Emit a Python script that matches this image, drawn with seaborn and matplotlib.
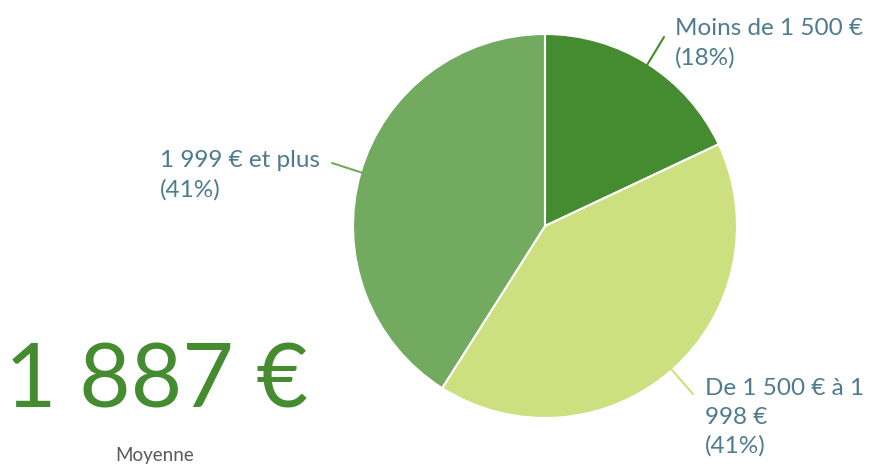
import numpy as np
import matplotlib
matplotlib.use("Agg")
import matplotlib.pyplot as plt
import seaborn as sns

# Données
categories = ["Moins de 1 500 €", "De 1 500 € à 1\n998 €", "1 999 € et plus"]
parts = [18, 41, 41]
couleurs = ["#458B2F", "#CDE07F", "#72AB60"]
moyenne = "1 887 €"

sns.set_theme(style="white")
plt.rcParams["font.family"] = ["Lato", "DejaVu Sans"]

W, H = 870, 465
fig = plt.figure(figsize=(W / 100, H / 100), dpi=100)
cx, cy, r = 545, 226, 192
ax = fig.add_axes([(cx - r) / W, (H - cy - r) / H, 2 * r / W, 2 * r / H])

wedges, _ = ax.pie(
    parts,
    colors=couleurs,
    startangle=90,
    counterclock=False,
    wedgeprops=dict(edgecolor="white", linewidth=1.5),
)
ax.set_aspect("equal")
ax.set_xlim(-1, 1)
ax.set_ylim(-1, 1)

# Étiquettes avec lignes de rappel (positions en pixels)
label_pos = [(675, 18), (705, 378), (160, 150)]
leader_end = [(664, 37), (693, 394), (332, 163)]
couleur_texte = "#4E7B8E"
for w, cat, p, col, (tx, ty), (lx, ly) in zip(wedges, categories, parts, couleurs,
                                                 label_pos, leader_end):
    ang = np.deg2rad((w.theta1 + w.theta2) / 2)
    x0, y0 = np.cos(ang) * 0.97, np.sin(ang) * 0.97
    x1 = (lx - cx) / r
    y1 = (cy - ly) / r
    ax.plot([x0, x1], [y0, y1], color=col, lw=1.5, clip_on=False)
    fig.text(tx / W, 1 - ty / H, f"{cat}\n({p}%)", color=couleur_texte,
             fontsize=17.5, ha="left", va="top", linespacing=1.45)

fig.text(157 / W, 1 - 382 / H, moyenne, color="#458B2F", fontsize=64,
         ha="center", va="center")
fig.text(155 / W, 1 - 455 / H, "Moyenne", color="#595959", fontsize=13.5,
         ha="center", va="center")

fig.savefig("out.png", dpi=100, facecolor="white")
